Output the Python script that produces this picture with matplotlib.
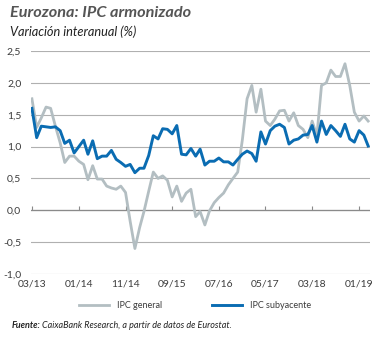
import numpy as np
import pandas as pd
import matplotlib
matplotlib.use("Agg")
import matplotlib.pyplot as plt
from matplotlib.ticker import FuncFormatter

plt.rcParams['font.family'] = ['Lato', 'DejaVu Sans']

# HICP year-on-year change, monthly, 03/2013 - 03/2019
months = pd.date_range("2013-03-01", periods=73, freq="MS")

ipc_general = [
    1.75, 1.30, 1.45, 1.62, 1.60, 1.32, 1.06, 0.75, 0.85, 0.85,
    0.77, 0.72, 0.48, 0.70, 0.49, 0.49, 0.38, 0.35, 0.33, 0.38,
    0.28, -0.17, -0.60, -0.27, -0.02, 0.30, 0.60, 0.50, 0.54, 0.47,
    0.21, 0.38, 0.14, 0.27, 0.33, -0.10, -0.02, -0.23, -0.01, 0.12,
    0.20, 0.27, 0.40, 0.50, 0.60, 1.10, 1.75, 1.96, 1.54, 1.90,
    1.40, 1.33, 1.43, 1.56, 1.57, 1.40, 1.53, 1.33, 1.27, 1.14,
    1.40, 1.17, 1.96, 2.00, 2.20, 2.10, 2.10, 2.30, 1.96, 1.54,
    1.40, 1.48, 1.40,
]
ipc_subyacente = [
    1.60, 1.14, 1.32, 1.31, 1.30, 1.31, 1.25, 1.05, 1.10, 0.90,
    1.00, 1.10, 0.88, 1.09, 0.81, 0.85, 0.85, 0.94, 0.80, 0.75,
    0.69, 0.72, 0.59, 0.66, 0.66, 0.86, 1.17, 1.12, 1.28, 1.27,
    1.20, 1.33, 0.88, 0.87, 0.97, 0.85, 0.96, 0.71, 0.77, 0.77,
    0.82, 0.76, 0.76, 0.71, 0.80, 0.88, 0.93, 0.89, 0.77, 1.23,
    1.04, 1.25, 1.32, 1.35, 1.30, 1.04, 1.10, 1.12, 1.18, 1.19,
    1.33, 1.07, 1.40, 1.19, 1.33, 1.25, 1.16, 1.35, 1.12, 1.07,
    1.25, 1.18, 1.01,
]
y_ticks = [-1.0, -0.5, 0.0, 0.5, 1.0, 1.5, 2.0, 2.5]
x_ticks = months[::10]
x_labels = [d.strftime("%m/%y") for d in x_ticks]

gray = "#b3bec2"
blue = "#0a6cb2"
text_col = "#3c3c3c"

fig = plt.figure(figsize=(3.8, 3.38), dpi=100)
ax = fig.add_axes([31 / 380, 1 - 274 / 338, 339 / 380, 223 / 338])

ax.plot(months, ipc_general, color=gray, lw=2.0, label="IPC general",
        solid_joinstyle="round", zorder=3)
ax.plot(months, ipc_subyacente, color=blue, lw=2.1, label="IPC subyacente",
        solid_joinstyle="round", zorder=4)

ax.set_ylim(-1.0, 2.5)
ax.set_xlim(months[0] - pd.Timedelta(days=6), months[-1] + pd.Timedelta(days=12))
ax.set_yticks(y_ticks)
ax.yaxis.set_major_formatter(FuncFormatter(lambda v, p: f"{v:.1f}".replace(".", ",")))
ax.set_xticks(x_ticks)
ax.set_xticklabels(x_labels)

for s in ax.spines.values():
    s.set_visible(False)
ax.grid(axis="y", color="#b0b0b0", lw=0.8)
ax.axhline(0, color="#8a8a8a", lw=0.9, zorder=2)
ax.tick_params(axis="both", length=0, labelsize=7.5, colors=text_col)
ax.tick_params(axis="x", pad=4)
ax.tick_params(axis="y", pad=7)

# small tick marks sitting on the zero line
zero_ax = ax.secondary_xaxis(0, transform=ax.transData)
zero_ax.set_xticks(x_ticks)
zero_ax.set_xticklabels([])
zero_ax.tick_params(direction="in", length=3, width=0.8, color="#8a8a8a")
zero_ax.spines["bottom"].set_visible(False)

fig.text(10 / 380, 1 - 13 / 338, "Eurozona: IPC armonizado", fontsize=11.7,
         fontweight="bold", fontstyle="italic", color="#555555", va="center")
fig.text(10 / 380, 1 - 32 / 338, "Variación interanual (%)", fontsize=9.2,
         fontstyle="italic", color="#222222", va="center")

fig.legend(loc="center", bbox_to_anchor=(195 / 380, 1 - 306 / 338), ncol=2,
           frameon=False, fontsize=6.5, handlelength=3.3, columnspacing=5.5,
           handletextpad=0.9, labelcolor=text_col)

src = fig.text(12 / 380, 1 - 325 / 338, "Fuente:", fontsize=6.5, fontweight="bold",
               fontstyle="italic", color="#222222", va="center")
fig.canvas.draw()
src_end = src.get_window_extent().x1 / fig.bbox.width
fig.text(src_end + 1 / 380, 1 - 325 / 338,
         "CaixaBank Research, a partir de datos de Eurostat.",
         fontsize=6.5, fontstyle="italic", color="#222222", va="center")

fig.savefig("out.png", dpi=100)
